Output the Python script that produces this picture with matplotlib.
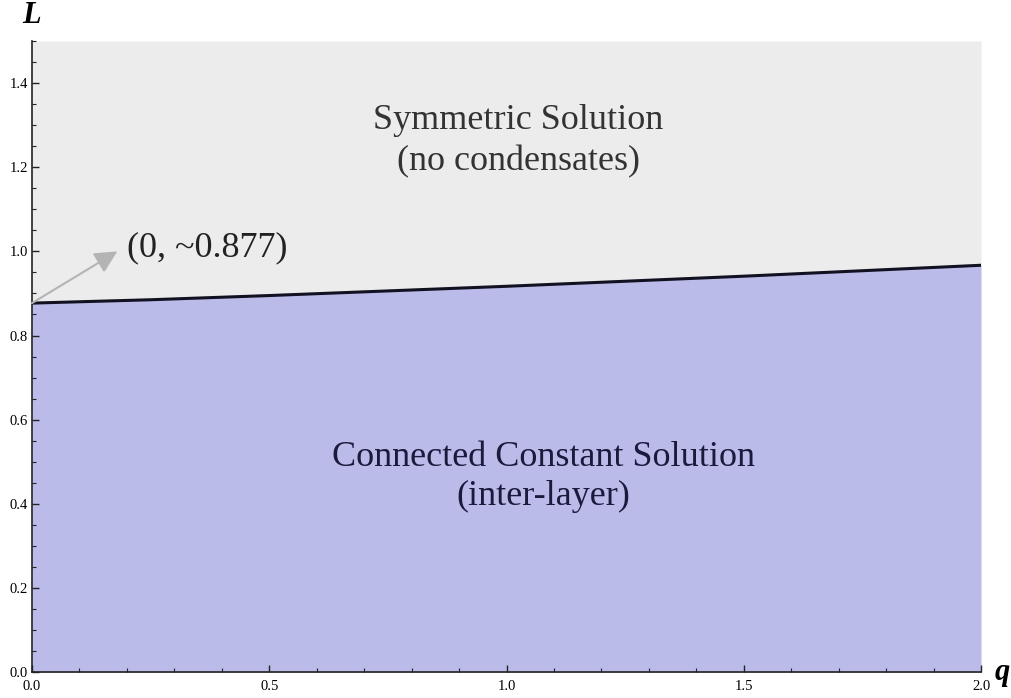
import numpy as np
import matplotlib.pyplot as plt
from matplotlib.ticker import MultipleLocator

# curva de fronteira L(q)
q = [0.0, 0.25, 0.5, 0.75, 1.0, 1.25, 1.5, 1.75, 2.0]
L = [0.877, 0.885, 0.895, 0.906, 0.917, 0.929, 0.941, 0.954, 0.967]

upper_label = "Symmetric Solution\n(no condensates)"
lower_label = "Connected Constant Solution\n(inter-layer)"
point_label = "(0, ~0.877)"

plt.rcParams['font.family'] = ['Liberation Serif', 'DejaVu Serif']

fig = plt.figure(figsize=(10.12, 6.98), dpi=100)
ax = fig.add_axes([0.0316, 0.0372, 0.9378, 0.904])

ax.fill_between(q, 0, L, color='#bbbbea', lw=0)
ax.fill_between(q, L, 1.5, color='#ececec', lw=0)
ax.plot(q, L, color='#111122', lw=2.2)

ax.set_xlim(0, 2)
ax.set_ylim(0, 1.5)

ax.text(1.025, 1.262, upper_label, ha='center', va='center', fontsize=26,
        color='#333333', linespacing=1.3)
ax.text(1.077, 0.464, lower_label, ha='center', va='center', fontsize=26,
        color='#1a1a3c', linespacing=1.25)

# seta cinza apontando para o ponto inicial
ax.annotate('', xy=(0.18, 1.0), xytext=(0.0, L[0]),
            arrowprops=dict(arrowstyle='-|>', color='#b4b4b4', lw=1.5,
                            mutation_scale=34, shrinkA=0, shrinkB=0))
ax.text(0.2, 1.008, point_label, ha='left', va='center', fontsize=26, color='#222222')

ax.xaxis.set_major_locator(MultipleLocator(0.5))
ax.xaxis.set_minor_locator(MultipleLocator(0.1))
ax.yaxis.set_major_locator(MultipleLocator(0.2))
ax.yaxis.set_minor_locator(MultipleLocator(0.05))
ax.xaxis.set_major_formatter(lambda v, p: f"{v:.1f}")
ax.yaxis.set_major_formatter(lambda v, p: f"{v:.1f}")

ax.tick_params(which='both', direction='in', labelsize=10.5, color='#222222',
               top=False, right=False)
ax.tick_params(which='major', length=5, width=1)
ax.tick_params(which='minor', length=3, width=0.8)
ax.tick_params(axis='x', pad=6)
ax.tick_params(axis='y', pad=3)

for s in ['top', 'right']:
    ax.spines[s].set_visible(False)
for s in ['left', 'bottom']:
    ax.spines[s].set_color('#222222')
    ax.spines[s].set_linewidth(1.2)

fig.text(0.022, 0.978, 'L', fontsize=22, style='italic', weight='bold',
         ha='left', va='center')
fig.text(0.983, 0.037, 'q', fontsize=22, style='italic', weight='bold',
         ha='left', va='center')

fig.savefig('out.png', dpi=100)
